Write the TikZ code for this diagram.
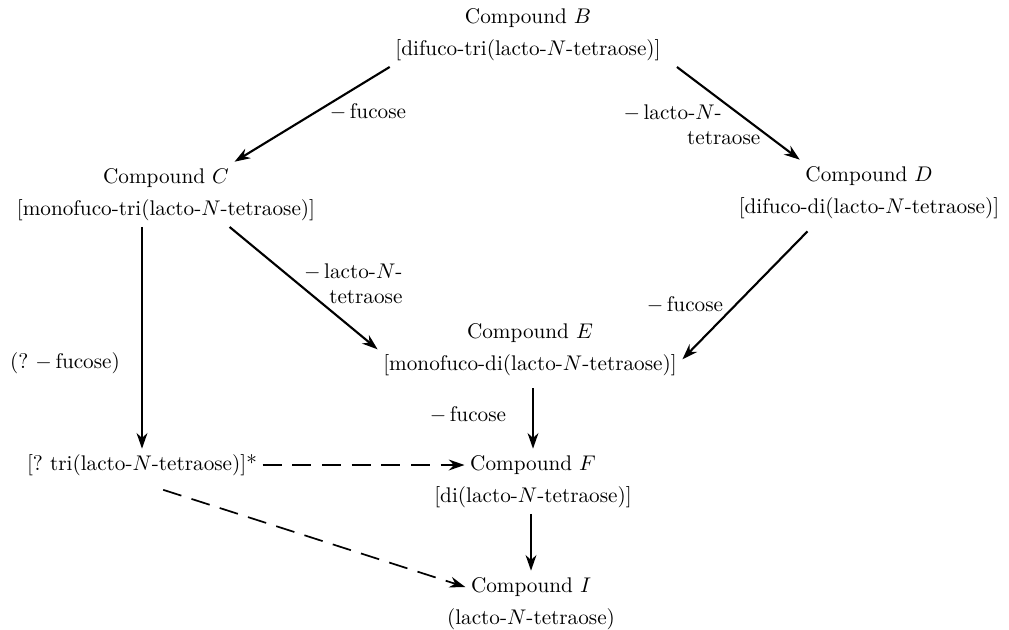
\documentclass[tikz,border=0pt]{standalone}
\usepackage{amsmath}
\usetikzlibrary{positioning,arrows.meta}

\begin{document}
\begin{tikzpicture}[
    x=0.4717pt, y=-0.4717pt,
    cmpd/.style={inner sep=2.5pt, text height=7.5pt, text depth=2.5pt},
    sub/.style={cmpd, below=0pt of #1},
    lbl/.style={inner sep=1pt, align=left},
    arrow/.style={-{Stealth[length=2.6mm, width=1.8mm]}, line width=1pt},
    dasharrow/.style={arrow, line width=0.8pt, dash pattern=on 9pt off 5pt}
]
    \useasboundingbox (0,0) rectangle (1009,629);

    % compounds
    \node[cmpd] (B) at (528,18) {Compound $B$};
    \node[sub=B] (Bsub) {[difuco-tri(lacto-$N$-tetraose)]};
    \node[cmpd] (C) at (166,178) {Compound $C$};
    \node[sub=C] (Csub) {[monofuco-tri(lacto-$N$-tetraose)]};
    \node[cmpd] (D) at (869,176) {Compound $D$};
    \node[sub=D] (Dsub) {[difuco-di(lacto-$N$-tetraose)]};
    \node[cmpd] (E) at (530,333) {Compound $E$};
    \node[sub=E] (Esub) {[monofuco-di(lacto-$N$-tetraose)]};
    \node[cmpd] (tri) at (142,465) {[?\ tri(lacto-$N$-tetraose)]*};
    \node[cmpd] (F) at (533,465) {Compound $F$};
    \node[sub=F] (Fsub) {[di(lacto-$N$-tetraose)]};
    \node[cmpd] (I) at (531,587) {Compound $I$};
    \node[sub=I] (Isub) {(lacto-$N$-tetraose)};

    % labels
    \node[lbl] (fucBC) at (368,112) {$-$\,fucose};
    \node[lbl, anchor=west] (lntBD) at (621,125) {$-$\,lacto-$N$-\\\hspace*{30pt}tetraose};
    \node[lbl, align=right, anchor=east] (lntCE) at (405,284) {$-$\,lacto-$N$-\\tetraose};
    \node[lbl] (fucDE) at (685,305) {$-$\,fucose};
    \node[lbl] (fucCt) at (65,363) {(?\ $-$\,fucose)};
    \node[lbl] (fucEF) at (468,415) {$-$\,fucose};

    % arrows
    \draw[arrow] (Bsub.south west) -- (C.north east);
    \draw[arrow] ([xshift=5pt]Bsub.south east) -- (D.north west);
    \draw[arrow] ([xshift=30pt]Csub.south) -- (Esub.north west);
    \draw[arrow] ([xshift=-29pt,yshift=-3pt]Dsub.south) -- ([yshift=3pt]Esub.east);
    \draw[arrow] (Csub.south -| tri.north) -- (tri.north);
    \draw[arrow, shorten <=3pt] (Esub.south -| F.north) -- (F.north);
    \draw[arrow] (Fsub.south -| I.north) -- (I.north);
    \draw[dasharrow] (tri.east) -- (F.west);
    \draw[dasharrow] ([xshift=10pt,yshift=-4pt]tri.south) -- (I.west);
\end{tikzpicture}
\end{document}
